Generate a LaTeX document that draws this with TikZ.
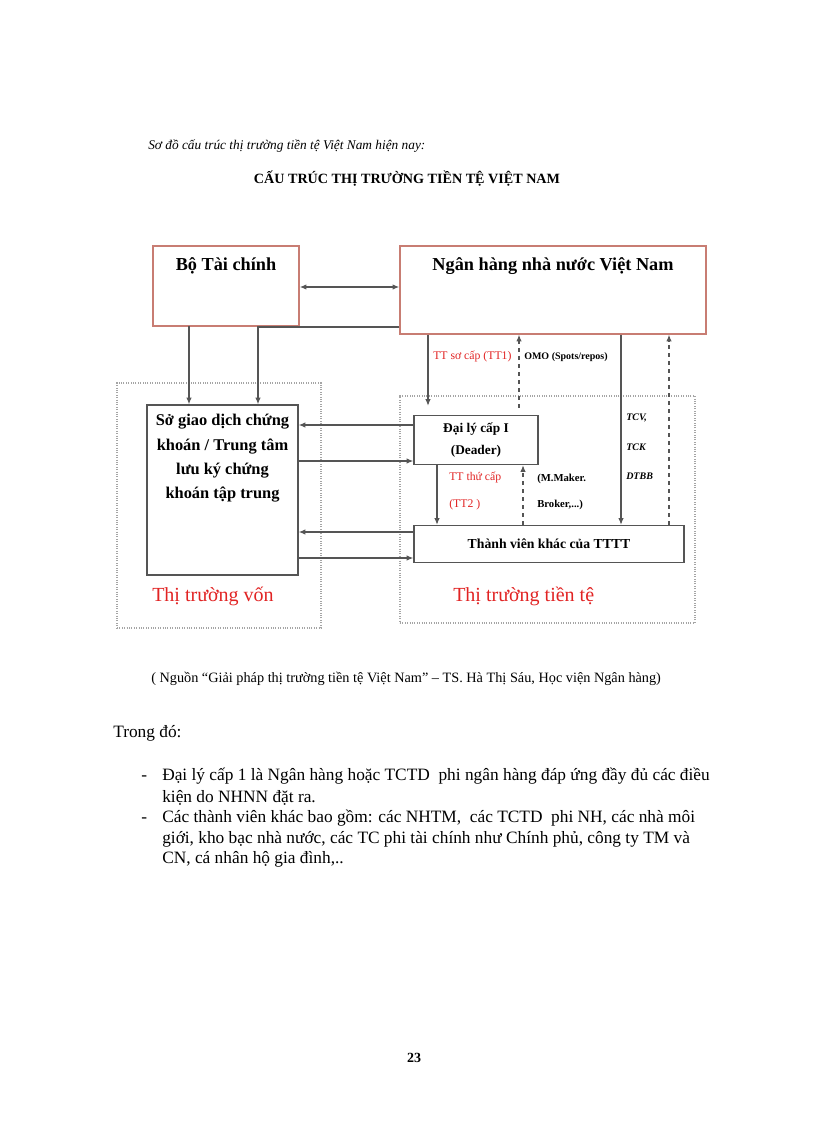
\documentclass[tikz,border=0pt]{standalone}
\usepackage{fontspec}
\setmainfont{Liberation Serif}
\usetikzlibrary{arrows.meta,positioning}
\definecolor{vienhong}{RGB}{200,125,115}
\definecolor{xamtik}{RGB}{85,85,85}
\definecolor{xamnhat}{RGB}{165,165,165}
\definecolor{doviet}{RGB}{225,35,35}
\newlength{\px}
\setlength{\px}{0.75pt}
\tikzset{
  khung/.style={draw=vienhong, line width=1pt, inner sep=0pt},
  hop/.style={draw=xamtik, line width=1pt, inner sep=0pt},
  vung/.style={draw=xamnhat, densely dotted, line width=0.8pt, inner sep=0pt},
  muiten/.style={draw=xamtik, line width=0.8pt, -{Latex[length=5pt,width=4pt]}},
  muitenkep/.style={draw=xamtik, line width=1pt, {Latex[length=5pt,width=4pt]}-{Latex[length=5pt,width=4pt]}},
  netdut/.style={muiten, dashed},
  chudo/.style={text=doviet, inner sep=0pt, anchor=base west},
  chunho/.style={inner sep=0pt, anchor=base west, font=\fontsize{7.5}{9}\selectfont\bfseries},
  chuthan/.style={inner sep=0pt, anchor=base west, font=\fontsize{13}{15}\selectfont},
}
\begin{document}
\begin{tikzpicture}[x=0.75pt, y=-0.75pt]
\useasboundingbox (0,0) rectangle (816,1123);
% tieu de
\node[inner sep=0pt, anchor=base west, font=\fontsize{10}{12}\selectfont\itshape] (tieude) at (148,150) {Sơ đồ cấu trúc thị trường tiền tệ Việt Nam hiện nay:};
\node[inner sep=0pt, anchor=base, font=\fontsize{10.6}{12}\selectfont\bfseries] (ten) at (407,184) {CẤU TRÚC THỊ TRƯỜNG TIỀN TỆ VIỆT NAM};
% hai vung thi truong
\node[vung, minimum width=204\px, minimum height=245\px] (vungvon) at (219,505.5) {};
\node[vung, minimum width=295\px, minimum height=227\px] (vungtt) at (547.5,509.5) {};
% cac khoi
\node[khung, minimum width=146\px, minimum height=80\px] (btc) at (226,286) {};
\node[khung, minimum width=306\px, minimum height=88\px] (nhnn) at (553,290) {};
\node[inner sep=0pt, anchor=base, font=\fontsize{13.7}{15}\selectfont\bfseries] (btcchu) at (btc.north |- 0,270) {Bộ Tài chính};
\node[inner sep=0pt, anchor=base, font=\fontsize{13.7}{15}\selectfont\bfseries] (nhnnchu) at (nhnn.north |- 0,270) {Ngân hàng nhà nước Việt Nam};
\node[hop, minimum width=151\px, minimum height=170\px] (sgd) at (222.5,490) {};
\node[inner sep=0pt, anchor=north, align=center, font=\fontsize{12.3}{18.3}\selectfont\bfseries] (sgdchu) at (222.5,414) {Sở giao dịch chứng\\khoán / Trung tâm\\lưu ký chứng\\khoán tập trung};
\node[hop, minimum width=124\px, minimum height=49\px, align=center, font=\fontsize{10}{16.5}\selectfont\bfseries] (daily) at (476,440) {Đại lý cấp I\\(Deader)};
\node[hop, minimum width=270\px, minimum height=37\px, font=\fontsize{10.3}{12}\selectfont\bfseries] (tvk) at (549,544) {Thành viên khác của TTTT};
% mui ten tren
\draw[muitenkep] (btc.east |- 0,287) -- (nhnn.west |- 0,287);
\coordinate (a1) at (189,326);
\coordinate (a2) at (258,327);
\draw[muiten] (a1) -- (a1 |- sgd.north);
\draw[muiten] (a2 -| nhnn.west) -- (a2) -- (a2 |- sgd.north);
\coordinate (b1) at (428,332);
\coordinate (b2) at (519,332);
\coordinate (b3) at (621,332);
\coordinate (b4) at (669,332);
\draw[muiten, shorten >=9\px] (b1 |- nhnn.south) -- (b1 |- daily.north);
\draw[netdut, shorten <=7\px] (b2 |- daily.north) -- (b2 |- nhnn.south);
\draw[muiten] (b3 |- nhnn.south) -- (b3 |- tvk.north);
\draw[netdut] (b4 |- tvk.north) -- (b4 |- nhnn.south);
\coordinate (c1) at (437,464);
\coordinate (c2) at (523,464);
\draw[muiten] (c1 |- daily.south) -- (c1 |- tvk.north);
\draw[netdut] (c2 |- tvk.north) -- (c2 |- daily.south);
% mui ten ngang
\coordinate (d1) at (300,425);
\coordinate (d2) at (300,461);
\coordinate (d3) at (300,532);
\coordinate (d4) at (300,558);
\draw[muiten] (d1 -| daily.west) -- (d1 -| sgd.east);
\draw[muiten] (d2 -| sgd.east) -- (d2 -| daily.west);
\draw[muiten] (d3 -| tvk.west) -- (d3 -| sgd.east);
\draw[muiten] (d4 -| sgd.east) -- (d4 -| tvk.west);
% nhan
\node[chudo, font=\fontsize{8.8}{10}\selectfont] (tt1) at (433,359) {TT sơ cấp (TT1)};
\node[chunho] (omo) at (524,359) {OMO (Spots/repos)};
\node[chunho, font=\fontsize{7.5}{9}\selectfont\bfseries\itshape] (tcv) at (626,420) {TCV,};
\node[chunho, font=\fontsize{7.5}{9}\selectfont\bfseries\itshape] (tck) at (626,450) {TCK};
\node[chunho, font=\fontsize{7.5}{9}\selectfont\bfseries\itshape] (dtbb) at (626,479) {DTBB};
\node[chudo, font=\fontsize{8.8}{10}\selectfont] (tt2a) at (449,480) {TT thứ cấp};
\node[chudo, font=\fontsize{8.8}{10}\selectfont] (tt2b) at (449,507) {(TT2 )};
\node[chunho, font=\fontsize{8}{9}\selectfont\bfseries] (mm) at (537,481) {(M.Maker.};
\node[chunho, font=\fontsize{8}{9}\selectfont\bfseries] (bk) at (537,507) {Broker,...)};
\node[chudo, font=\fontsize{15}{18}\selectfont] (ttvon) at (152,601) {Thị trường vốn};
\node[chudo, font=\fontsize{15}{18}\selectfont] (ttte) at (453,601) {Thị trường tiền tệ};
% nguon va ghi chu
\node[inner sep=0pt, anchor=base west, font=\fontsize{10.7}{12}\selectfont] (nguon) at (151,682) {( Nguồn “Giải pháp thị trường tiền tệ Việt Nam” – TS. Hà Thị Sáu, Học viện Ngân hàng)};
\node[chuthan] (trongdo) at (113,737) {Trong đó:};
\node[chuthan] (g1) at (141,780) {-};
\node[chuthan] (l1) at (162,780) {Đại lý cấp 1 là Ngân hàng hoặc TCTD\ \ phi ngân hàng đáp ứng đầy đủ các điều};
\node[chuthan] (l2) at (162,802) {kiện do NHNN đặt ra.};
\node[chuthan] (g2) at (141,822) {-};
\node[chuthan] (l3) at (162,822) {Các thành viên khác bao gồm: các NHTM,\ \ các TCTD\ \ phi NH, các nhà môi};
\node[chuthan] (l4) at (162,843) {giới, kho bạc nhà nước, các TC phi tài chính như Chính phủ, công ty TM và};
\node[chuthan] (l5) at (162,863) {CN, cá nhân hộ gia đình,..};
\node[inner sep=0pt, anchor=base, font=\fontsize{10.5}{12}\selectfont\bfseries] (trang) at (414,1062) {23};
\end{tikzpicture}
\end{document}
